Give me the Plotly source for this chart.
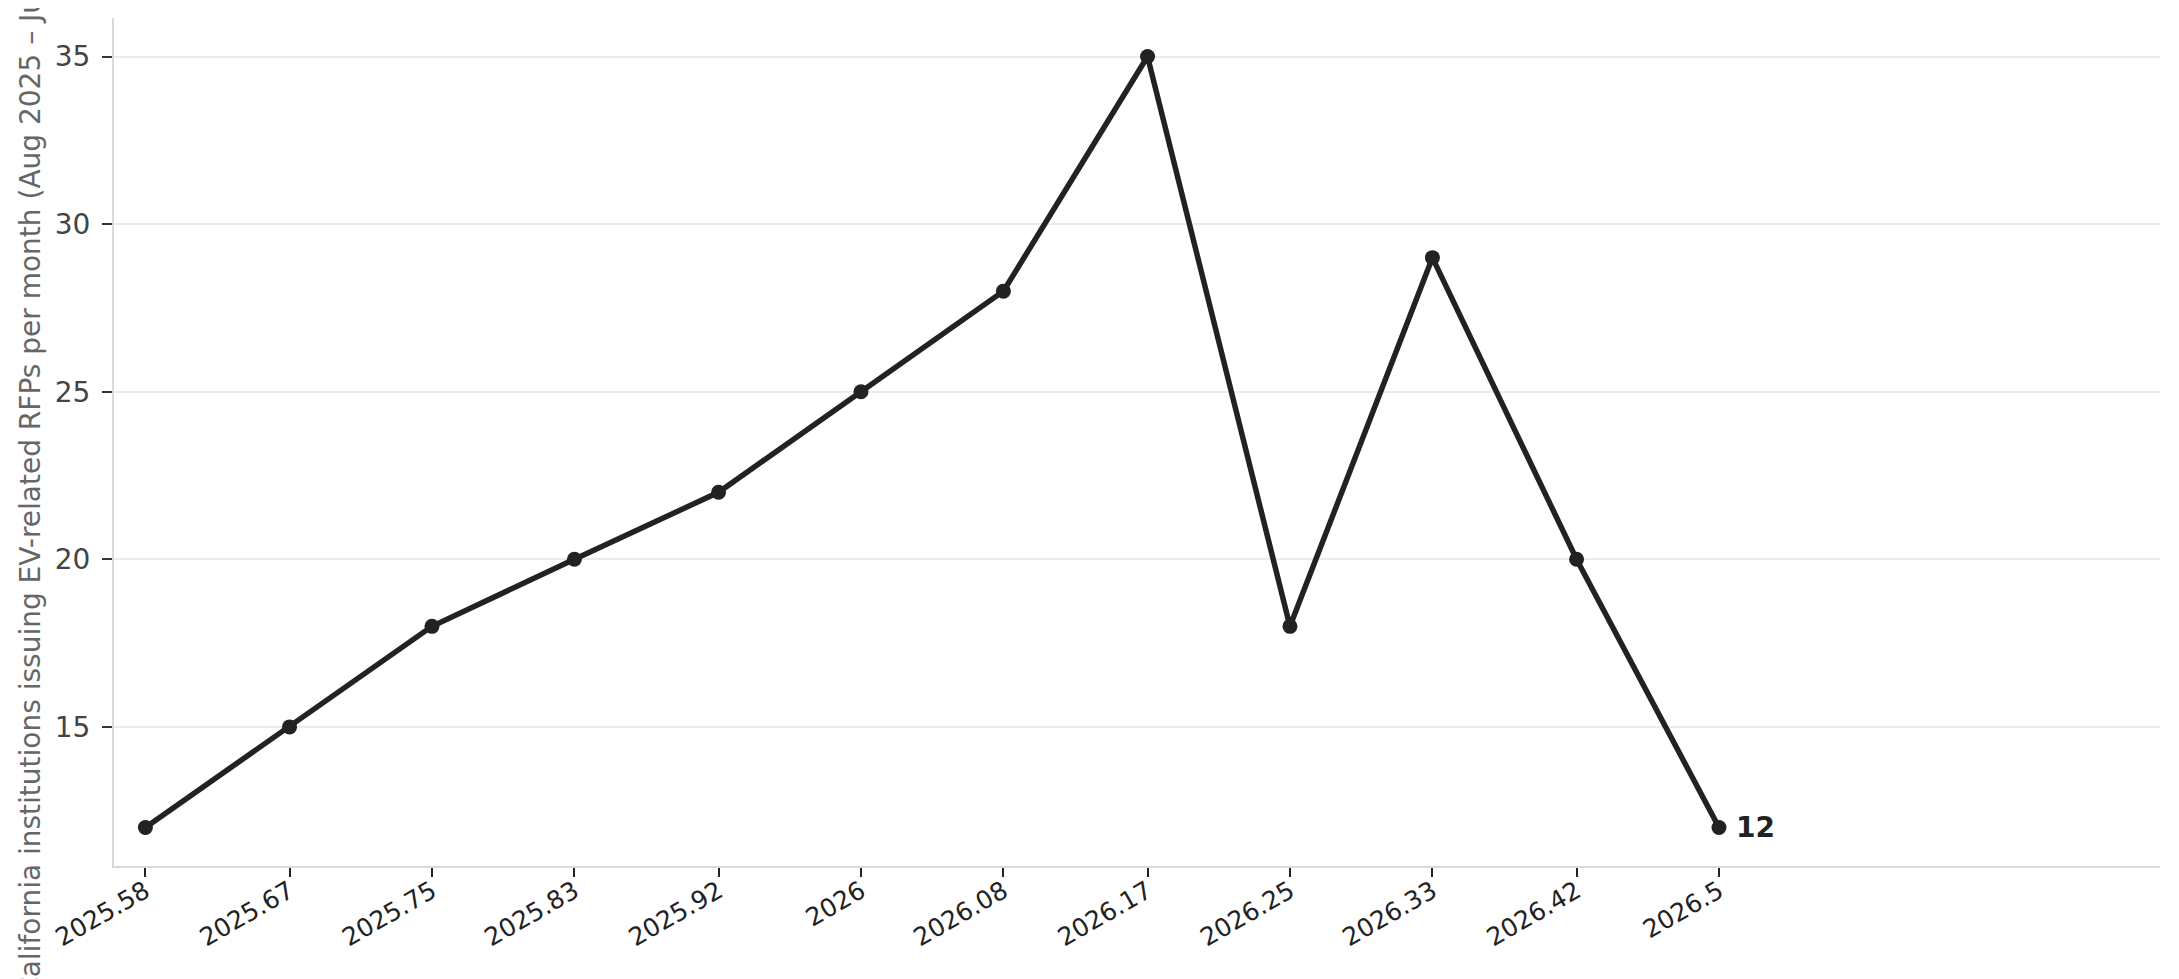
import plotly.graph_objects as go

# monthly EV-related RFP counts, Aug 2025 - Jul 2026 (decimal years)
months = [2025.583, 2025.667, 2025.75, 2025.833, 2025.917, 2026.0,
          2026.083, 2026.167, 2026.25, 2026.333, 2026.417, 2026.5]
rfps = [12, 15, 18, 20, 22, 25, 28, 35, 18, 29, 20, 12]
month_labels = ["2025.58", "2025.67", "2025.75", "2025.83", "2025.92", "2026",
                "2026.08", "2026.17", "2026.25", "2026.33", "2026.42", "2026.5"]
y_ticks = [15, 20, 25, 30, 35]

ink = "#222222"

fig = go.Figure()
fig.add_trace(go.Scatter(
    x=months, y=rfps,
    mode="lines+markers",
    line=dict(color=ink, width=5.5),
    marker=dict(color=ink, size=15),
    showlegend=False,
    hoverinfo="x+y",
))

# label the latest value
fig.add_annotation(
    x=months[-1], y=rfps[-1], text=f"<b>{rfps[-1]}</b>",
    showarrow=False, xanchor="left", yanchor="middle", xshift=15,
    font=dict(family="DejaVu Sans", size=28, color=ink),
)

# page body adds 8px around the figure, so size it to fit the window
fig.update_layout(
    width=2171, height=971,
    margin=dict(l=106, r=19, t=10, b=113),
    paper_bgcolor="white", plot_bgcolor="white",
    font=dict(family="DejaVu Sans", color="#444444"),
)

fig.update_xaxes(
    range=[2025.5647, 2026.757],
    tickvals=months, ticktext=month_labels, tickangle=-30,
    tickfont=dict(size=25, color=ink),
    ticks="outside", ticklen=9, tickwidth=2, tickcolor=ink,
    ticklabelstandoff=-10,
    showgrid=False, zeroline=False,
    showline=True, linecolor="#d9d9d9", linewidth=2,
)

fig.update_yaxes(
    range=[10.85, 36.15],
    tickvals=y_ticks,
    tickfont=dict(size=28, color="#444444"),
    ticks="outside", ticklen=10, tickwidth=2, tickcolor="#333333",
    ticklabelstandoff=6,
    showgrid=True, gridcolor="#ebebeb", gridwidth=2,
    zeroline=False,
    showline=True, linecolor="#d9d9d9", linewidth=2,
    title=dict(
        text="California institutions issuing EV-related RFPs per month (Aug 2025 – Jun 2026)",
        font=dict(size=28, color="#666666"),
        standoff=6,
    ),
)

fig.write_html("out.html")
